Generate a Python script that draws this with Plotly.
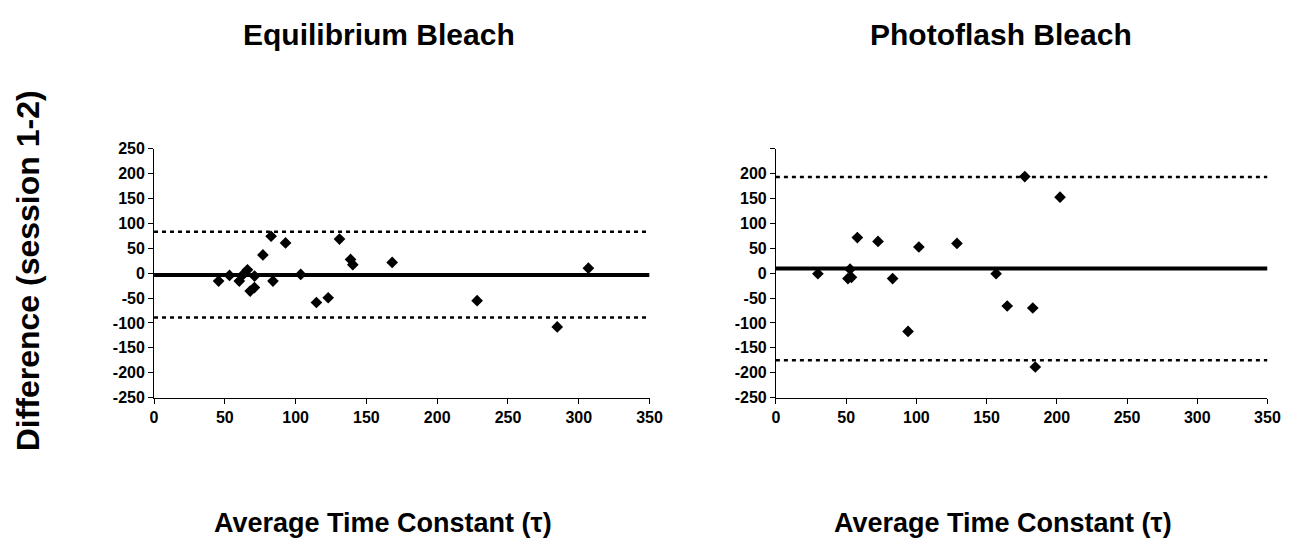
import plotly.graph_objects as go

# ---- data ----
eq_avg = [45.6, 53.3, 60.2, 63, 66, 71, 67.9, 70.9, 76.9, 82.7, 84, 92.9, 103.6,
          114.7, 123, 131, 138.8, 140.4, 168.2, 228.2, 284.8, 306.8]
eq_diff = [-16, -4.6, -16, -2.6, 6.5, -6, -36, -29, 36.5, 74, -16, 60.6, -2.6,
           -59, -49.5, 68.4, 27.4, 17, 21.5, -55.4, -108, 9.8]
eq_mean = -4
eq_upper = 83
eq_lower = -89

pf_avg = [29.9, 52.8, 51.3, 53.8, 58, 72.7, 83.1, 94.1, 101.8, 128.9, 156.8,
          164.7, 177.2, 182.9, 184.7, 202.3]
pf_diff = [-1.3, 7.9, -11, -8.5, 71.3, 63.5, -11, -117, 52.4, 59.6, -1.3,
           -66, 193.7, -70, -188.5, 152.5]
pf_mean = 9
pf_upper = 193
pf_lower = -175

x_range = [0, 350]
x_ticks = [0, 50, 100, 150, 200, 250, 300, 350]
y_ticks = [-250, -200, -150, -100, -50, 0, 50, 100, 150, 200, 250]
y_ticktext_left = [str(v) for v in y_ticks]
y_ticktext_right = [str(v) if v != 250 else "" for v in y_ticks]

titles = ["Equilibrium Bleach", "Photoflash Bleach"]
x_title = "Average Time Constant (τ)"
y_title = "Difference (session 1-2)"

FONT = "Liberation Sans, Arial, sans-serif"
W, H = 1316, 554

fig = go.Figure()

panels = [
    (eq_avg, eq_diff, eq_mean, eq_upper, eq_lower, "x", "y"),
    (pf_avg, pf_diff, pf_mean, pf_upper, pf_lower, "x2", "y2"),
]
for xs, ys, m, up, lo, xa, ya in panels:
    fig.add_trace(go.Scatter(x=x_range, y=[m, m], mode="lines",
                             line=dict(color="black", width=4),
                             xaxis=xa, yaxis=ya, hoverinfo="skip"))
    for lim in (up, lo):
        fig.add_trace(go.Scatter(x=x_range, y=[lim, lim], mode="lines",
                                 line=dict(color="black", width=2.5, dash="4px,4px"),
                                 xaxis=xa, yaxis=ya, hoverinfo="skip"))
    fig.add_trace(go.Scatter(x=xs, y=ys, mode="markers",
                             marker=dict(symbol="diamond", size=9, color="black"),
                             xaxis=xa, yaxis=ya))

tickfont = dict(family=FONT, size=16, color="black", weight="bold")
common_x = dict(range=x_range, tickvals=x_ticks, showgrid=False, zeroline=False,
                showline=True, linecolor="black", linewidth=1, ticks="outside",
                ticklen=5, tickcolor="black", tickfont=tickfont, fixedrange=True)
common_y = dict(range=[-250, 250], tickvals=y_ticks, showgrid=False, zeroline=False,
                showline=True, linecolor="black", linewidth=1, ticks="outside",
                ticklen=5, tickcolor="black", tickfont=tickfont, fixedrange=True)

ydom = [1 - 402 / H, 1 - 145 / H]
fig.update_layout(
    width=W, height=H,
    margin=dict(l=0, r=0, t=0, b=0),
    paper_bgcolor="white", plot_bgcolor="white",
    showlegend=False,
    xaxis=dict(domain=[152 / W, 654 / W], anchor="y", **common_x),
    yaxis=dict(domain=ydom, anchor="x", ticktext=y_ticktext_left, **common_y),
    xaxis2=dict(domain=[782 / W, 1280 / W], anchor="y2", **common_x),
    yaxis2=dict(domain=ydom, anchor="x2", ticktext=y_ticktext_right, **common_y),
)

ann = []
title_font = dict(family=FONT, size=30, color="black", weight="bold")
xt_font = dict(family=FONT, size=27, color="black", weight="bold")
for t, cx in zip(titles, [380, 1010]):
    ann.append(dict(text=t, x=cx / W, y=1 - 27 / H, xref="paper", yref="paper",
                    xanchor="center", yanchor="middle", showarrow=False, font=title_font))
for cx in [384, 1012]:
    ann.append(dict(text=x_title, x=cx / W, y=1 - 531 / H, xref="paper", yref="paper",
                    xanchor="center", yanchor="middle", showarrow=False, font=xt_font))
ann.append(dict(text=y_title, x=24 / W, y=1 - 271 / H, xref="paper", yref="paper",
                xanchor="center", yanchor="middle", showarrow=False, textangle=-90,
                font=dict(family=FONT, size=32, color="black", weight="bold")))
fig.update_layout(annotations=ann)

fig.write_html("out.html", config={"displayModeBar": False},
               post_script="document.body.style.margin='0';")
